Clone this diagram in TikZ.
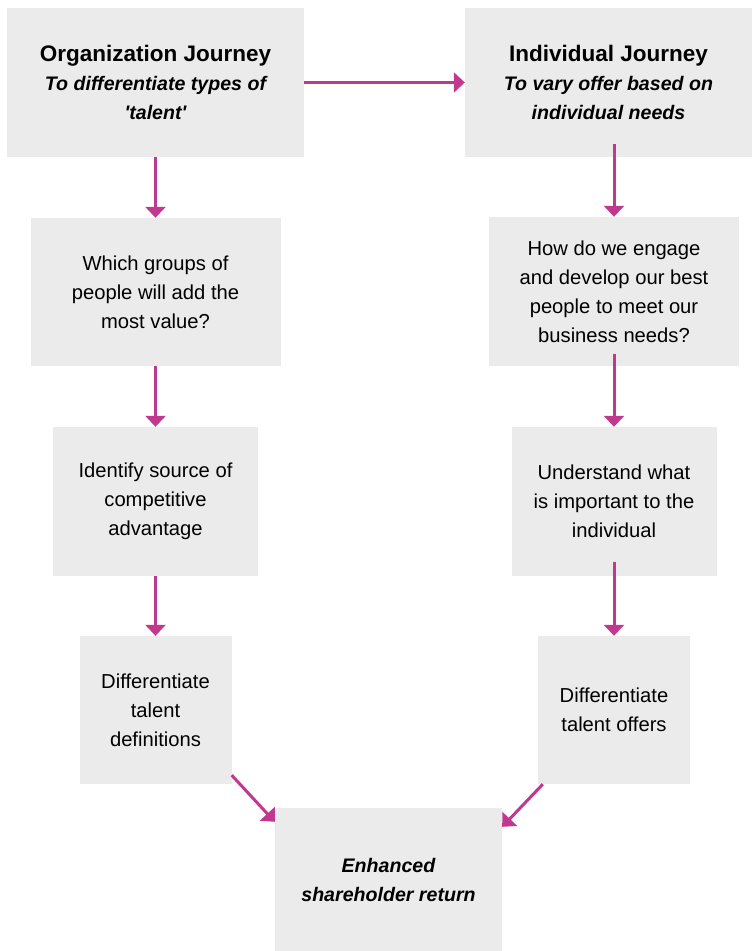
\documentclass[tikz,border=0pt]{standalone}
\usepackage{fontspec}
\setmainfont{Liberation Sans}
\usetikzlibrary{arrows.meta}
\definecolor{boxgray}{HTML}{EBEBEB}
\definecolor{magarrow}{HTML}{C0398E}
\tikzset{
  box/.style={rectangle, fill=boxgray, inner sep=0pt, align=center, anchor=center,
    font=\fontsize{20.2}{29}\selectfont},
  flow/.style={draw=magarrow, line width=3pt, -{Triangle[width=20pt,length=11pt]}}
}
\newcommand{\ttl}[1]{{\fontsize{22.5}{29}\selectfont\bfseries #1}}
\newcommand{\sbt}[1]{{\fontsize{19.6}{29}\selectfont\bfseries\itshape #1}}
\begin{document}
\begin{tikzpicture}[x=1pt,y=-1pt]
\useasboundingbox (0,0) rectangle (752,951);
\node[box, minimum width=297pt, minimum height=149pt] (b1) at (155.5,82.5)
  {\ttl{Organization Journey}\\ \sbt{To differentiate types of}\\ \sbt{\textquotesingle talent\textquotesingle}};
\node[box, minimum width=287pt, minimum height=149pt] (b2) at (608.5,82.5)
  {\ttl{Individual Journey}\\ \sbt{To vary offer based on}\\ \sbt{individual needs}};
\node[box, minimum width=250pt, minimum height=148pt] (b3) at (155.5,292)
  {Which groups of\\ people will add the\\ most value?};
\node[box, minimum width=250pt, minimum height=149pt] (b4) at (614,291.5)
  {How do we engage\\ and develop our best\\ people to meet our\\ business needs?};
\node[box, minimum width=205pt, minimum height=149pt] (b5) at (155.5,501.5)
  {Identify source of\\ competitive\\ advantage};
\node[box, minimum width=205pt, minimum height=149pt] (b6) at (614,501.5)
  {Understand what\\ is important to the\\ individual};
\node[box, minimum width=152pt, minimum height=148pt] (b7) at (155.5,710)
  {Differentiate\\ talent\\ definitions};
\node[box, minimum width=152pt, minimum height=148pt] (b8) at (614,710)
  {Differentiate\\ talent offers};
\node[box, minimum width=227pt, minimum height=143pt] (b9) at (388.5,879.5)
  {\sbt{Enhanced}\\ \sbt{shareholder return}};
\draw[flow] (b1.east) -- (b2.west);
\draw[flow] (b1.south -| b3.north) -- (b3.north);
\draw[flow] (b3.south -| b5.north) -- (b5.north);
\draw[flow] (b5.south -| b7.north) -- (b7.north);
\draw[flow] ([yshift=13pt]b2.south -| b4.north) -- (b4.north);
\draw[flow] ([yshift=12pt]b4.south -| b6.north) -- (b6.north);
\draw[flow] ([yshift=14pt]b6.south -| b8.north) -- (b8.north);
\draw[flow] ([yshift=9pt]b7.south east) -- ([yshift=-14pt]b9.north west);
\draw[flow] ([xshift=5pt]b8.south west) -- ([yshift=-19pt]b9.north east);
\end{tikzpicture}
\end{document}
